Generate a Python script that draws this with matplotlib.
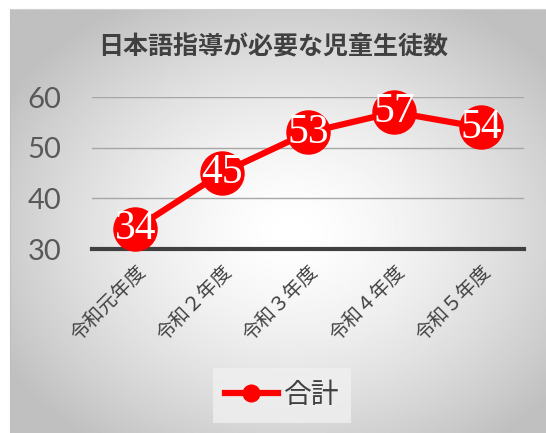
import numpy as np
import matplotlib
matplotlib.use("Agg")
import matplotlib.pyplot as plt
from matplotlib.lines import Line2D
from matplotlib.font_manager import FontProperties, findfont

plt.rcParams['font.family'] = ['Noto Sans CJK JP', 'DejaVu Sans']

title = "日本語指導が必要な児童生徒数"
years = ["令和元年度", "令和２年度", "令和３年度", "令和４年度", "令和５年度"]
totals = [34, 45, 53, 57, 54]
series_name = "合計"
yticks = [30, 40, 50, 60]

W, H = 546, 433
fig = plt.figure(figsize=(W / 100, H / 100), dpi=100)
fig.patch.set_facecolor("white")

# radial gradient backdrop of the chart area
bg = fig.add_axes([10 / W, 0, 1 - 10 / W, 1 - 9 / H])
gx, gy = np.meshgrid(np.linspace(-1, 1, 400), np.linspace(-1, 1, 320))
r = np.sqrt((gx - 0.05) ** 2 + (gy - 0.05) ** 2)
shade = 1.0 - 0.25 * np.clip(r / 1.25, 0, 1) ** 1.5
bg.imshow(shade, cmap="gray", vmin=0, vmax=1, aspect="auto",
          extent=[0, 1, 0, 1], interpolation="bilinear")
bg.set_xlim(0, 1)
bg.set_ylim(0, 1)
for s in ["right", "bottom"]:
    bg.spines[s].set_visible(False)
bg.spines["left"].set_color("#bfbfbf")
bg.spines["top"].set_color("#d0d0d0")
bg.set_xticks([])
bg.set_yticks([])

ax = fig.add_axes([92 / W, (H - 249) / H, (524 - 92) / W, (249 - 97) / H])
ax.patch.set_alpha(0)
x = np.arange(len(years))

ax.set_xlim(-0.5, len(years) - 0.5)
ax.set_ylim(30, 60)
ax.set_yticks(yticks)
ax.yaxis.grid(True, color="#a6a6a6", linewidth=1)
ax.set_axisbelow(True)
for s in ["top", "right", "left"]:
    ax.spines[s].set_visible(False)
ax.spines["bottom"].set_color("#404040")
ax.spines["bottom"].set_linewidth(3)

ax.plot(x, totals, color="#ff0000", linewidth=4.5, marker="o",
        markersize=31, clip_on=False, zorder=3, label=series_name)

# data labels in a Times-like serif, loaded straight from its file
serif_path = findfont(FontProperties(family="Liberation Serif"))
serif = FontProperties(fname=serif_path, size=30)
for xi, v in zip(x, totals):
    ax.text(xi, v, str(v), ha="center", va="center", color="white",
            fontproperties=serif, zorder=4)

ax.set_xticks(x)
ax.set_xticklabels(years, rotation=45, ha="right", rotation_mode="anchor",
                   fontsize=14, color="#404040")
ax.tick_params(axis="x", length=0, pad=9)
ax.tick_params(axis="y", length=0, pad=22, labelsize=21, labelcolor="#595959")
for lab in ax.get_yticklabels():
    lab.set_family(["Lato", "DejaVu Sans"])

fig.text(273 / W, 1 - 47 / H, title, ha="center", va="center",
         fontsize=18, fontweight="bold", color="#404040")

h = Line2D([], [], color="#ff0000", linewidth=4.5, marker="o", markersize=12)
leg = fig.legend([h], [series_name], loc="center", bbox_to_anchor=(282 / W, 1 - 395 / H),
                 frameon=True, fontsize=20, handlelength=1.9, handletextpad=0.2,
                 borderpad=0.45, fancybox=False)
leg.get_frame().set_facecolor("#f0f0f0")
leg.get_frame().set_edgecolor("none")
for t in leg.get_texts():
    t.set_color("#404040")

fig.savefig("out.png", dpi=100)
